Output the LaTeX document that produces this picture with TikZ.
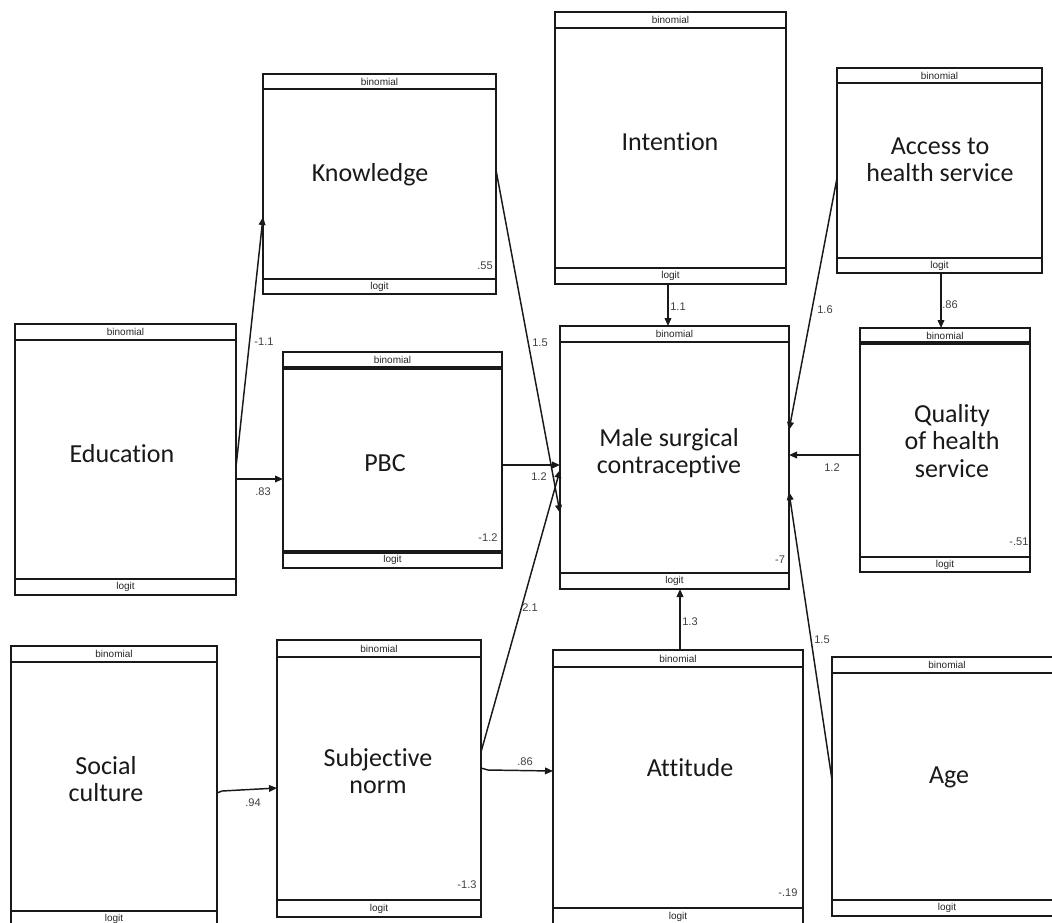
\documentclass[tikz,border=0pt]{standalone}
\usepackage{fontspec}
\setmainfont{Carlito}[Ligatures=NoCommon]
\newfontfamily\tagfont{Liberation Sans}
\usetikzlibrary{arrows.meta,calc,fit}
\newcommand\semvar[8]{%
  \node[box,fit={(#2,#3)(#4,#5)}] (#1) {};
  \draw[#6] ($(#1.north west)+(0,#8)$) -- ($(#1.north east)+(0,#8)$);
  \node[tag] at ($(#1.north)+(0,#8/2)$) {binomial};
  \draw[#7] ($(#1.south west)+(0,-#8)$) -- ($(#1.south east)+(0,-#8)$);
  \node[tag] at ($(#1.south)+(0,-#8/2)$) {logit};
}
\begin{document}
\begin{tikzpicture}[x=0.75pt,y=-0.75pt,
  box/.style={draw=black!90,line width=1.5pt,inner sep=0pt,outer sep=0pt},
  band/.style={draw=black!90,line width=1.3pt},
  thickband/.style={draw=black!90,line width=2.6pt},
  tag/.style={font=\tagfont\fontsize{7.5}{8}\selectfont,text=black!85,inner sep=0pt},
  num/.style={font=\tagfont\fontsize{8.3}{9}\selectfont,text=black!75,inner sep=0pt},
  lbl/.style={font=\fontsize{19.5}{20.5}\selectfont,align=center,inner sep=0pt,text=black!90},
  conn/.style={draw=black!90,line width=1.1pt,-{Triangle[length=6pt,width=5pt]}}]
\useasboundingbox (0,0) rectangle (1052,922);
\fill[white] (0,0) rectangle (1052,922);

% variables
\semvar{kn}{263}{74}{496}{294}{band}{band}{15}
\semvar{in}{555}{12}{786}{284}{band}{band}{16}
\semvar{ac}{837}{68}{1042}{273}{band}{band}{15}
\semvar{qu}{860}{328}{1030}{572}{thickband}{band}{15}
\semvar{ed}{15}{324}{236}{595}{band}{band}{16}
\semvar{pb}{283}{352}{502}{568}{thickband}{thickband}{16}
\semvar{ma}{560}{326}{789}{589}{band}{band}{16}
\semvar{so}{11}{646}{217}{927}{band}{band}{16}
\semvar{sn}{277}{640}{481}{917}{band}{band}{17}
\semvar{at}{553}{650}{803}{925}{band}{band}{17}
\semvar{ag}{832}{657}{1062}{916}{band}{band}{16}

% labels
\node[lbl] (knl) at (370,175) {Knowledge};
\node[lbl] (inl) at (670,142) {Intention};
\node[lbl] (acl) at (940,160) {Access to\\health service};
\node[lbl] (qul) at (952,441) {Quality\\of health\\service};
\node[lbl] (edl) at (122,454) {Education};
\node[lbl] (pbl) at (385,463) {PBC};
\node[lbl] (mal) at (669,453) {Male surgical\\contraceptive};
\node[lbl] (sol) at (106,779) {Social\\culture};
\node[lbl] (snl) at (378,771) {Subjective\\norm};
\node[lbl] (atl) at (690,768) {Attitude};
\node[lbl] (agl) at (949,777) {Age};

% constants
\node[num] at (485,266) {.55};
\node[num] at (488,538) {-1.2};
\node[num] at (780,560) {-7};
\node[num] at (1019,542) {-.51};
\node[num] at (467,885) {-1.3};
\node[num] at (788,893) {-.19};

% connectors
\draw[conn] (ed.east |- 0,467) -- (kn.west |- 0,217);
\draw[conn] (ed.east |- 0,479) -- (pb.west |- 0,479);
\draw[conn] (kn.east |- 0,170) -- (ma.west |- 0,513);
\draw[conn] (pb.east |- 0,465) -- (ma.west |- 0,465);
\draw[conn] (sn.east |- 0,752) -- (ma.west |- 0,470);
\draw[conn] (in.south -| 668,0) -- (ma.north -| 668,0);
\draw[conn] (ac.west |- 0,178) -- (ma.east |- 0,430);
\draw[conn] (ac.south -| 941,0) -- (qu.north -| 941,0);
\draw[conn] (qu.west |- 0,455) -- (ma.east |- 0,455);
\draw[conn] (ag.west |- 0,780) -- (ma.east |- 0,492);
\draw[conn] (at.north -| 680,0) -- (ma.south -| 680,0);
\draw[conn] (so.east |- 0,793) -- (222,791) -- (sn.west |- 0,788);
\draw[conn] (sn.east |- 0,768) -- (488,770) -- (at.west |- 0,771);

% path coefficients
\node[num] at (264,342) {-1.1};
\node[num] at (263,492) {.83};
\node[num] at (540,343) {1.5};
\node[num] at (539,477) {1.2};
\node[num] at (678,307) {1.1};
\node[num] at (950,305) {.86};
\node[num] at (825,310) {1.6};
\node[num] at (832,468) {1.2};
\node[num] at (690,622) {1.3};
\node[num] at (822,640) {1.5};
\node[num] at (530,608) {2.1};
\node[num] at (253,803) {.94};
\node[num] at (525,762) {.86};
\end{tikzpicture}
\end{document}
